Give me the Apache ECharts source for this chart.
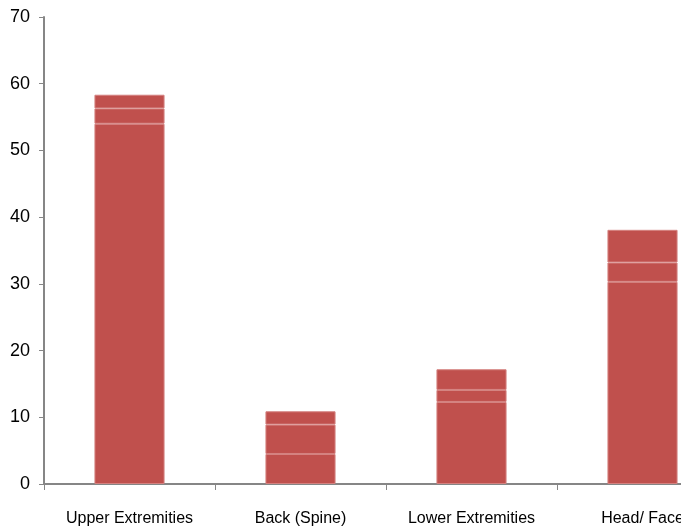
<!DOCTYPE html>
<html>
<head>
<meta charset="utf-8">
<script src="https://cdn.jsdelivr.net/npm/echarts@6/dist/echarts.min.js"></script>
<style>
html,body{margin:0;padding:0;background:#fff;}
#chart{width:681px;height:529px;}
</style>
</head>
<body>
<div id="chart"></div>
<script>
const categories = ['Upper Extremities', 'Back (Spine)', 'Lower Extremities', 'Head/ Face'];
const segment1 = [54.0, 4.5, 12.3, 30.3];
const segment2 = [2.3, 4.4, 1.8, 2.9];
const segment3 = [2.05, 2.0, 3.1, 4.9];
const yTicks = [0, 10, 20, 30, 40, 50, 60, 70];

const fontFam = '"Liberation Sans", Arial, sans-serif';
const barStyle = { color: '#C0504D', borderColor: '#D48280', borderWidth: 1 };

function seg(data) {
  return {
    type: 'bar', stack: 'total', data: data, barWidth: '41%',
    itemStyle: barStyle, emphasis: { disabled: true }, animation: false
  };
}

const chart = echarts.init(document.getElementById('chart'), null, { renderer: 'canvas' });
chart.setOption({
  animation: false,
  grid: { left: 44, width: 684, top: 17, height: 467, containLabel: false, outerBoundsMode: 'none' },
  xAxis: {
    type: 'category', data: categories,
    axisLine: { lineStyle: { color: '#868686', width: 2 } },
    axisTick: { show: true, alignWithLabel: false, length: 6, lineStyle: { color: '#868686', width: 1 } },
    axisLabel: { color: '#000', fontFamily: fontFam, fontSize: 16, margin: 27, interval: 0 },
    splitLine: { show: false }
  },
  yAxis: {
    type: 'value', min: yTicks[0], max: yTicks[yTicks.length - 1], interval: 10,
    axisLine: { show: true, lineStyle: { color: '#868686', width: 2 } },
    axisTick: { show: true, length: 5, lineStyle: { color: '#868686', width: 1 } },
    axisLabel: { color: '#000', fontFamily: fontFam, fontSize: 18, margin: 14 },
    splitLine: { show: false }
  },
  series: [seg(segment1), seg(segment2), seg(segment3)]
});
</script>
</body>
</html>
